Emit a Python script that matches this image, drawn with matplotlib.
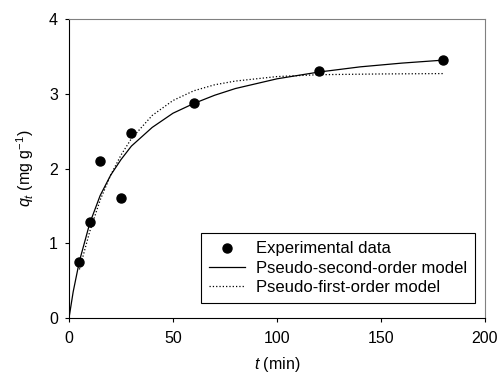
import matplotlib.pyplot as plt
import numpy as np

plt.rcParams['font.family'] = ['Liberation Sans', 'DejaVu Sans']
plt.rcParams['mathtext.fontset'] = 'custom'
plt.rcParams['mathtext.it'] = 'Liberation Sans:italic'
plt.rcParams['mathtext.rm'] = 'Liberation Sans'

# experimental points
t_exp = np.array([5, 10, 15, 25, 30, 60, 120, 180])
q_exp = np.array([0.75, 1.29, 2.10, 1.61, 2.48, 2.87, 3.30, 3.45])

# pseudo-second-order curve
t_pso = np.array([0, 2, 5, 10, 15, 20, 25, 30, 40, 50, 60, 70, 80, 100, 120, 140, 160, 180])
q_pso = np.array([0, 0.35, 0.76, 1.27, 1.64, 1.91, 2.12, 2.30, 2.55, 2.74, 2.87, 2.98,
                  3.07, 3.20, 3.29, 3.36, 3.41, 3.45])

# pseudo-first-order curve
t_pfo = np.array([5, 10, 15, 20, 25, 30, 40, 50, 60, 70, 80, 100, 120, 150, 180])
q_pfo = np.array([0.65, 1.16, 1.58, 1.91, 2.18, 2.40, 2.71, 2.91, 3.04, 3.12, 3.17,
                  3.23, 3.255, 3.265, 3.27])

fig = plt.figure(figsize=(5, 3.8), dpi=100)
ax = fig.add_axes([0.138, 0.163, 0.832, 0.787])

ax.plot(t_exp, q_exp, 'o', color='black', markersize=6.5, label='Experimental data')
ax.plot(t_pso, q_pso, '-', color='black', linewidth=0.9, label='Pseudo-second-order model')
ax.plot(t_pfo, q_pfo, ':', color='black', linewidth=0.9, label='Pseudo-first-order model')

ax.set_xlim(0, 200)
ax.set_ylim(0, 4)
ax.set_xticks([0, 50, 100, 150, 200])
ax.set_yticks([0, 1, 2, 3, 4])
ax.tick_params(direction='out', length=3, width=0.8, labelsize=11.5, top=False, right=False)
ax.tick_params(axis='x', pad=6)
ax.tick_params(axis='y', pad=5)

for s in ['top', 'right']:
    ax.spines[s].set_color('#808080')
for s in ['left', 'bottom']:
    ax.spines[s].set_color('black')

ax.set_xlabel(r'$\it{t}$ (min)', fontsize=11.5, labelpad=7)
ax.set_ylabel(r'$\it{q_t}$ (mg g$^{-1}$)', fontsize=11.5, labelpad=9)

leg = ax.legend(loc='lower right', fontsize=12, fancybox=False, edgecolor='black',
                framealpha=1, borderpad=0.48, handlelength=2.15, handletextpad=0.65,
                labelspacing=0.26, borderaxespad=0, bbox_to_anchor=(0.976, 0.05))
leg.get_frame().set_linewidth(0.8)

plt.savefig('out.png', dpi=100)
